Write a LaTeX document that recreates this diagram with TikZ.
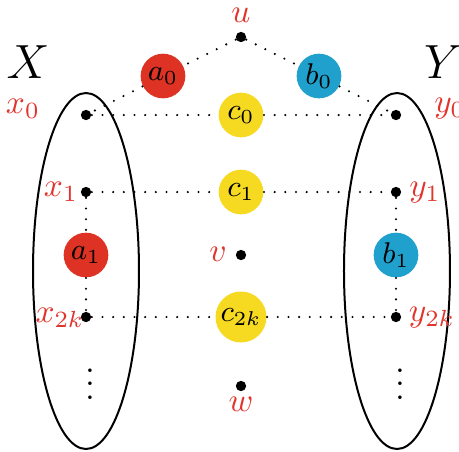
\documentclass[tikz,border=0pt]{standalone}
\usepackage{amsmath}
\usepackage{tikz}

\definecolor{ballred}{RGB}{221,50,36}
\definecolor{ballblue}{RGB}{31,160,205}
\definecolor{ballyellow}{RGB}{246,218,34}
\definecolor{labred}{RGB}{226,52,44}

\tikzset{
  vtx/.style={circle,fill=black,inner sep=0pt,minimum size=3.1pt},
  ball/.style={circle,inner sep=0.8pt,minimum size=13.4pt,font=\small},
  lab/.style={inner sep=0.75pt,text=labred},
  dotline/.style={line width=0.7pt,line cap=round,dash pattern=on 0pt off 3.2pt},
}

\begin{document}
\begin{tikzpicture}[x=0.3pt,y=0.3pt,yscale=-1]
        \useasboundingbox (0,0) rectangle (459,451);

        % the two sets
        \draw [line width=0.6pt] (86,271) ellipse [x radius=53, y radius=178];
        \draw [line width=0.6pt] (397,271) ellipse [x radius=53, y radius=178];

        % vertices
        \node [vtx] (u) at (241,37) {};
        \node [ball,fill=ballred] (a0) at (163,76) {$a_0$};
        \node [ball,fill=ballblue] (b0) at (319,76) {$b_0$};
        \node [vtx] (x0) at (86,115) {};
        \node [ball,fill=ballyellow] (c0) at (241,115) {$c_0$};
        \node [vtx] (y0) at (396,115) {};
        \node [vtx] (x1) at (86,192) {};
        \node [ball,fill=ballyellow] (c1) at (241,192) {$c_1$};
        \node [vtx] (y1) at (396,192) {};
        \node [ball,fill=ballred] (a1) at (86,255) {$a_1$};
        \node [vtx] (v) at (241,255) {};
        \node [ball,fill=ballblue] (b1) at (396,255) {$b_1$};
        \node [vtx] (x2k) at (86,317) {};
        \node [ball,fill=ballyellow] (c2k) at (241,317) {$c_{2k}$};
        \node [vtx] (y2k) at (396,317) {};
        \node [vtx] (w) at (241,386) {};

        % dotted edges
        \draw [dotline] (u) -- (a0) -- (x0);
        \draw [dotline] (u) -- (b0) -- (y0);
        \draw [dotline] (x0) -- (c0) -- (y0);
        \draw [dotline] (x1) -- (c1) -- (y1);
        \draw [dotline] (x2k) -- (c2k) -- (y2k);
        \draw [dotline] (x1) -- (a1) -- (x2k);
        \draw [dotline] (y1) -- (b1) -- (y2k);

        % vertical dots
        \node (xmore) at (90,374) {$\vdots$};
        \node (ymore) at (400,374) {$\vdots$};

        % Text Node
        \node [inner sep=0.75pt,font=\Large] (setX) at (28,62) {$X$};
        \node [inner sep=0.75pt,font=\Large] (setY) at (443,62) {$Y$};
        \node [lab] (ulab) at (241,15) {$u$};
        \node [lab] (vlab) at (218,254) {$v$};
        \node [lab] (wlab) at (241,404) {$w$};
        \node [lab] (x0lab) at (23,109) {$x_0$};
        \node [lab] (x1lab) at (61,192) {$x_1$};
        \node [lab] (x2klab) at (60,318) {$x_{2k}$};
        \node [lab] (y0lab) at (450,109) {$y_0$};
        \node [lab] (y1lab) at (425,193) {$y_1$};
        \node [lab] (y2klab) at (432,318) {$y_{2k}$};
\end{tikzpicture}
\end{document}
